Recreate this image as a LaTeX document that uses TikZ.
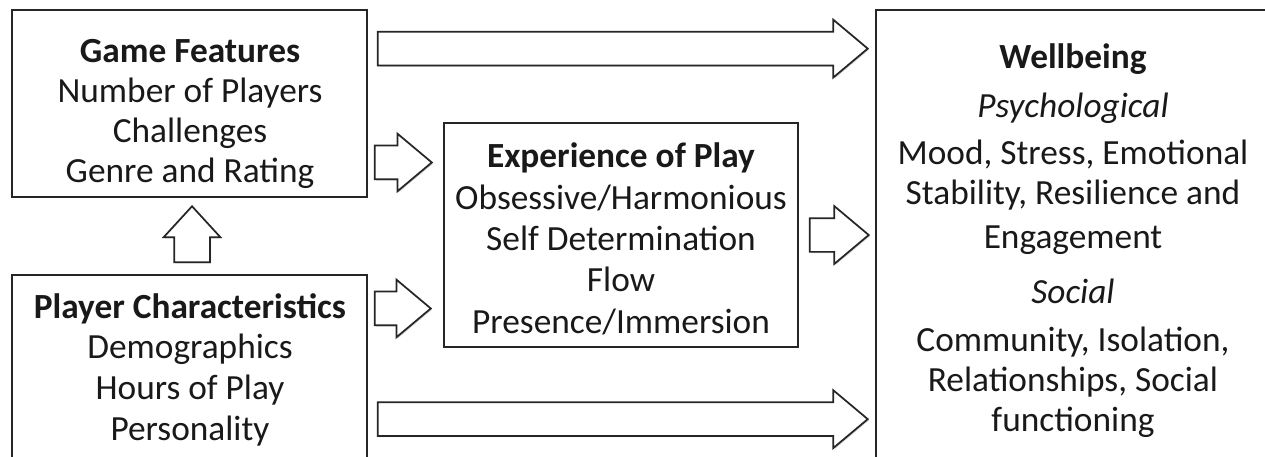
\documentclass[tikz,border=0pt]{standalone}
\usepackage{fontspec}
\setmainfont{Carlito}
\usepackage{tikz}
\usetikzlibrary{shapes.arrows,shadows}
\definecolor{wbline}{RGB}{38,38,38}
\definecolor{wbshade}{RGB}{150,150,150}
\tikzset{
  wbbox/.style={
    draw=wbline,
    line width=1.3pt,
    fill=white,
    inner sep=0pt,
    drop shadow={shadow xshift=0.9pt, shadow yshift=-0.9pt, fill=wbshade, opacity=0.45}
  },
  wbtext/.style={align=center, inner sep=0pt, text=black!90},
  wbarrow/.style={
    single arrow,
    draw=wbline,
    line width=1.3pt,
    fill=white,
    inner xsep=0pt,
    inner ysep=12pt,
    single arrow head extend=9pt,
    single arrow tip angle=80,
    drop shadow={shadow xshift=0.9pt, shadow yshift=-0.9pt, fill=wbshade, opacity=0.45}
  }
}

\begin{document}
\begin{tikzpicture}[x=0.75pt, y=-0.75pt]
\useasboundingbox (0,0) rectangle (1265,457);
\fill[white] (0,0) rectangle (1265,457);

% the four boxes
\node[wbbox, minimum width=266.25pt, minimum height=140.25pt] (game) at (189.5,103.5) {};
\node[wbbox, minimum width=266.25pt, minimum height=168.75pt] (player) at (189.5,387.5) {};
\node[wbbox, minimum width=265.5pt, minimum height=168pt] (exp) at (621,235) {};
\node[wbbox, minimum width=297pt, minimum height=367.5pt] (well) at (1074,255) {};

% texts, placed by the baseline of their last line
\node[wbtext, font=\fontsize{26.5}{30}\selectfont, anchor=base] (gametxt) at (190,182)
  {\textbf{Game Features}\\Number of Players\\Challenges\\Genre and Rating};
\node[wbtext, font=\fontsize{26.5}{30.5}\selectfont, anchor=base] (playertxt) at (190,440)
  {\textbf{Player Characteristics}\\Demographics\\Hours of Play\\Personality};
\node[wbtext, font=\fontsize{26.5}{31}\selectfont, anchor=base] (exptxt) at (621,333)
  {\textbf{Experience of Play}\\Obsessive/Harmonious\\Self Determination\\Flow\\Presence/Immersion};
\node[wbtext, font=\fontsize{26.5}{30}\selectfont, anchor=base] (welltxt) at (1073,431)
  {\textbf{Wellbeing}\\[7pt]\textit{Psychological}\\[5pt]Mood, Stress, Emotional\\Stability, Resilience and\\[3pt]Engagement\\[11pt]\textit{Social}\\[6pt]Community, Isolation,\\Relationships, Social\\functioning};

% block arrows between the boxes
\node[wbarrow, minimum height=367.5pt, anchor=tail] (gamewell) at ([xshift=6.75pt,yshift=-29.6pt]game.north east) {};
\node[wbarrow, minimum height=367.5pt, anchor=tail] (playerwell) at ([xshift=6.75pt,yshift=-108.75pt]player.north east) {};
\node[wbarrow, minimum height=42.75pt, anchor=tip] (gameexp) at ([xshift=-7.5pt,yshift=54.4pt]exp.west) {};
\node[wbarrow, minimum height=42pt, anchor=tip] (playerexp) at ([xshift=-8.25pt,yshift=-55.1pt]exp.west) {};
\node[wbarrow, minimum height=44.25pt, anchor=tail] (expwell) at ([xshift=7.5pt]exp.east) {};
\node[wbarrow, minimum height=42pt, inner sep=12.75pt, single arrow head extend=7.9pt,
  single arrow tip angle=85, shape border rotate=90, anchor=tail] (playergame) at ([xshift=1.9pt,yshift=8.25pt]player.north) {};
\end{tikzpicture}
\end{document}
